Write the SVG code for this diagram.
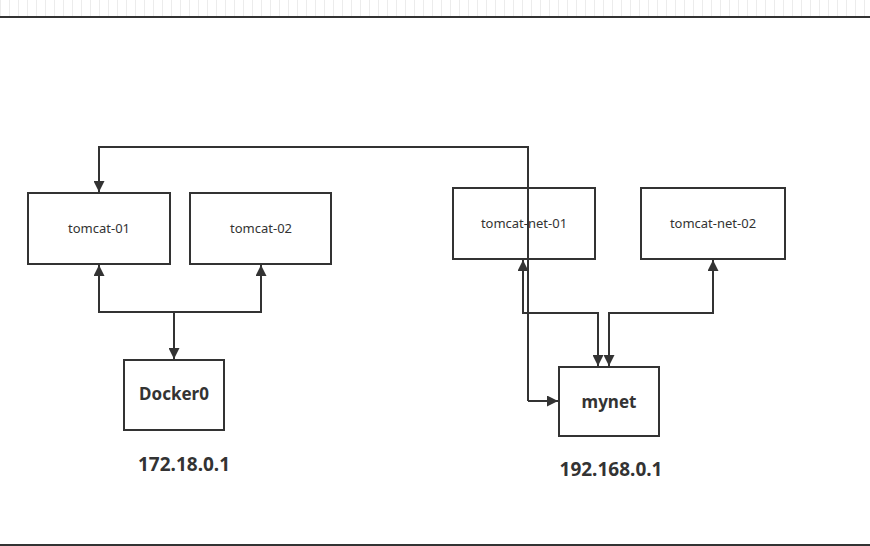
<svg xmlns="http://www.w3.org/2000/svg" width="870" height="546" viewBox="0 0 870 546">
<defs>
<style>
.box{fill:#fff;stroke:#333;stroke-width:2}
.t{font-family:"Noto Sans","Open Sans",sans-serif;font-size:13px;fill:#333;text-anchor:middle}
.b{font-family:"Noto Sans","Open Sans",sans-serif;font-size:17px;font-weight:bold;fill:#333;text-anchor:middle}
.ip{font-family:"Noto Sans","Open Sans",sans-serif;font-size:19px;font-weight:bold;fill:#333;text-anchor:middle}
.c{fill:none;stroke:#333;stroke-width:2}
</style>
<marker id="ah" viewBox="0 0 10 10" refX="10" refY="5" markerWidth="6" markerHeight="5.5" orient="auto-start-reverse" markerUnits="strokeWidth">
<path d="M0,0 L10,5 L0,10 z" fill="#333"/>
</marker>
<pattern id="grid" width="9" height="16" patternUnits="userSpaceOnUse">
<line x1="0.5" y1="0" x2="0.5" y2="16" stroke="#ececec" stroke-width="1"/>
</pattern>
</defs>
<rect width="870" height="546" fill="#fff"/>
<rect x="0" y="0" width="870" height="16" fill="url(#grid)"/>
<line x1="0" y1="17" x2="870" y2="17" stroke="#333" stroke-width="2"/>
<line x1="0" y1="545" x2="870" y2="545" stroke="#333" stroke-width="2"/>

<g id="connectors">
<path class="c" d="M528,401 L528,147 L99,147 L99,192" marker-end="url(#ah)"/>
<path class="c" d="M528,401 L558,401" marker-end="url(#ah)"/>
<path class="c" d="M99,265 L99,312 L261,312 L261,265" marker-start="url(#ah)" marker-end="url(#ah)"/>
<path class="c" d="M174,312 L174,359" marker-end="url(#ah)"/>
<path class="c" d="M523,260 L523,313 L598,313 L598,366" marker-start="url(#ah)" marker-end="url(#ah)"/>
<path class="c" d="M713,260 L713,313 L609,313 L609,366" marker-start="url(#ah)" marker-end="url(#ah)"/>
</g>

<g id="tomcat-01"><rect class="box" x="28" y="193" width="142" height="71"/><text class="t" x="99" y="233">tomcat-01</text></g>
<g id="tomcat-02"><rect class="box" x="190" y="193" width="141" height="71"/><text class="t" x="261" y="233">tomcat-02</text></g>
<g id="tomcat-net-01"><rect class="box" x="453" y="188" width="142" height="71" fill-opacity="0"/><text class="t" x="524" y="228">tomcat-net-01</text></g>
<g id="tomcat-net-02"><rect class="box" x="641" y="188" width="144" height="71"/><text class="t" x="713" y="228">tomcat-net-02</text></g>
<g id="docker0"><rect class="box" x="124" y="360" width="100" height="70"/><text class="b" x="174" y="400">Docker0</text></g>
<g id="mynet"><rect class="box" x="559" y="367" width="100" height="69"/><text class="b" x="609" y="408">mynet</text></g>
<text class="ip" x="184" y="471">172.18.0.1</text>
<text class="ip" x="611" y="476">192.168.0.1</text>
</svg>
